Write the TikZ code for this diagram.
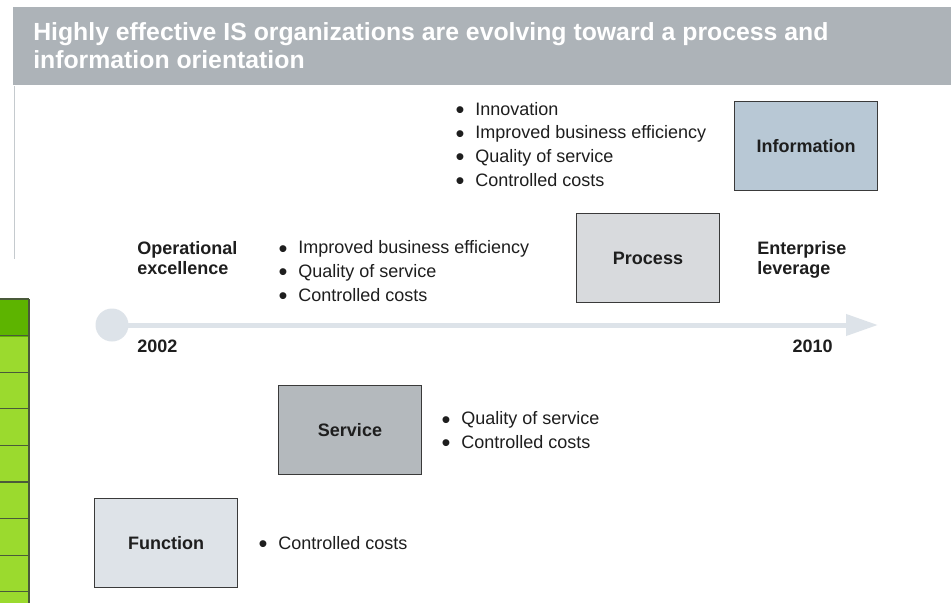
\documentclass[tikz,border=0pt]{standalone}
\usepackage{fontspec}
\setmainfont{Liberation Sans}
\usepackage{tikz}
\usetikzlibrary{arrows.meta}

\definecolor{titlebar}{HTML}{ADB3B8}
\definecolor{sideline}{HTML}{C5CACE}
\definecolor{darkgreen}{HTML}{5DB400}
\definecolor{lightgreen}{HTML}{9BDA2E}
\definecolor{greenline}{HTML}{4A5A3A}
\definecolor{timeline}{HTML}{DDE3E9}
\definecolor{boxline}{HTML}{3A3A3A}
\definecolor{inkgray}{HTML}{1E1E1E}
\definecolor{functionfill}{HTML}{DEE3E8}
\definecolor{servicefill}{HTML}{B4B9BD}
\definecolor{processfill}{HTML}{D8DADD}
\definecolor{informationfill}{HTML}{B8C8D5}

\tikzset{
  stagebox/.style={draw=boxline, line width=0.8pt, minimum width=107pt, minimum height=67pt,
    font=\fontsize{13.5}{16}\selectfont\bfseries, text=inkgray},
  itemtext/.style={anchor=base west, inner sep=0pt, font=\fontsize{13.5}{16}\selectfont, text=inkgray},
  milestone/.style={anchor=base west, inner sep=0pt, align=left,
    font=\fontsize{13.5}{15}\selectfont\bfseries, text=inkgray}
}
\newcommand{\itembullet}{\llap{\raisebox{-0.35ex}{\fontsize{19}{19}\selectfont\textbullet}\hspace{8pt}}}

\begin{document}
\begin{tikzpicture}[x=0.75pt,y=-0.75pt]
			\fill[white] (0,0) rectangle (951,603);
			\useasboundingbox (0,0) rectangle (951,603);
			% title bar
			\fill[titlebar] (13,7) rectangle (951,85);
			\draw (33,69) node[anchor=base west, inner sep=0pt, text=white,
			  font=\fontsize{18.6}{21.5}\selectfont\bfseries, align=left] (title)
			  {Highly effective IS organizations are evolving toward a process and\\information orientation};
			\draw[sideline, line width=1.2pt] (14.5,86) -- (14.5,259);
			% green strip on the left
			\fill[darkgreen] (0,299) rectangle (29,336.6);
			\foreach \y in { 0,1,2,3,4,5,6,7 }
			\fill[lightgreen] (0,336.6 + \y * 36.6) rectangle (29,373.2 + \y * 36.6);
			\foreach \y in { 0,1,2,3,4,5,6,7,8 }
			\draw[greenline, line width=0.8pt] (0,299 + \y * 36.6) -- (29,299 + \y * 36.6);
			\draw[greenline, line width=1pt] (29,299) -- (29,603);
			% time line
			\node[circle, fill=timeline, minimum size=24.75pt, inner sep=0pt] (start) at (112,325) {};
			\coordinate (tip) at (878,325);
			\draw[timeline, line width=3.75pt, -{Triangle[length=24pt,width=15.5pt]}] (start.center) -- (tip);
			\draw (137,352) node[anchor=base west, inner sep=0pt, font=\fontsize{13.5}{16}\selectfont\bfseries, text=inkgray] (from) {2002};
			\draw (833,352) node[anchor=base east, inner sep=0pt, font=\fontsize{13.5}{16}\selectfont\bfseries, text=inkgray] (to) {2010};
			\draw (137,274) node[milestone] (operational) {Operational\\excellence};
			\draw (757,274) node[milestone] (enterprise) {Enterprise\\leverage};
			% stages
			\node[stagebox, fill=functionfill] (function) at (166,543) {Function};
			\node[stagebox, fill=servicefill] (service) at (350,430) {Service};
			\node[stagebox, fill=processfill] (process) at (648,258) {Process};
			\node[stagebox, fill=informationfill] (information) at (806,146) {Information};
			% benefits
			\draw (278,549) node[itemtext] (functionitem1) {\itembullet Controlled costs};
			\foreach \t [count=\i] in { Quality of service, Controlled costs }
			\draw (461,401 + \i * 23.7) node[itemtext] (serviceitem\i) {\itembullet\t};
			\foreach \t [count=\i] in { Improved business efficiency, Quality of service, Controlled costs }
			\draw (298,230 + \i * 23.7) node[itemtext] (processitem\i) {\itembullet\t};
			\foreach \t [count=\i] in { Innovation, Improved business efficiency, Quality of service, Controlled costs }
			\draw (475,91.5 + \i * 23.7) node[itemtext] (informationitem\i) {\itembullet\t};
	\end{tikzpicture}
\end{document}
